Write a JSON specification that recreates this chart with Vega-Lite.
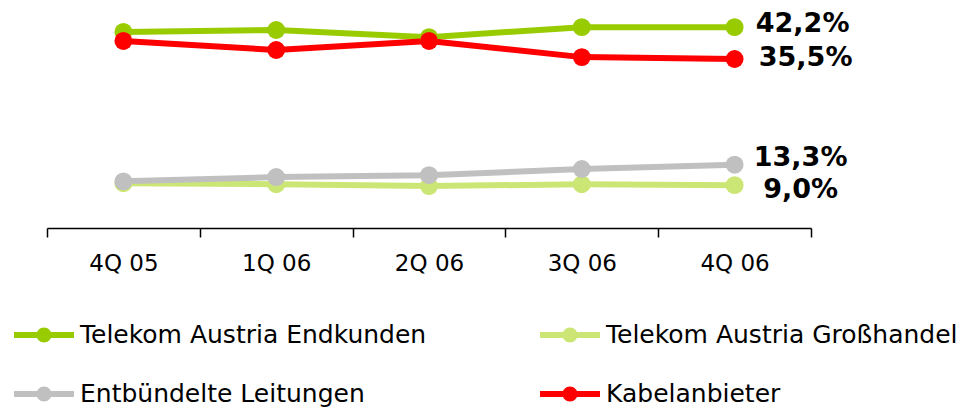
{
  "$schema": "https://vega.github.io/schema/vega-lite/v6.json",
  "autosize": "none",
  "width": 764,
  "height": 228,
  "padding": {"left": 47, "top": 0, "right": 165, "bottom": 181},
  "background": "white",
  "config": {"view": {"stroke": null}, "font": "DejaVu Sans"},
  "data": {
    "values": [
      {"q": "4Q 05", "s": "Telekom Austria Endkunden", "v": 41.2},
      {"q": "1Q 06", "s": "Telekom Austria Endkunden", "v": 41.6},
      {"q": "2Q 06", "s": "Telekom Austria Endkunden", "v": 40.1},
      {"q": "3Q 06", "s": "Telekom Austria Endkunden", "v": 42.2},
      {"q": "4Q 06", "s": "Telekom Austria Endkunden", "v": 42.2},
      {"q": "4Q 05", "s": "Telekom Austria Großhandel", "v": 9.4},
      {"q": "1Q 06", "s": "Telekom Austria Großhandel", "v": 9.2},
      {"q": "2Q 06", "s": "Telekom Austria Großhandel", "v": 8.8},
      {"q": "3Q 06", "s": "Telekom Austria Großhandel", "v": 9.2},
      {"q": "4Q 06", "s": "Telekom Austria Großhandel", "v": 9.0},
      {"q": "4Q 05", "s": "Entbündelte Leitungen", "v": 9.8},
      {"q": "1Q 06", "s": "Entbündelte Leitungen", "v": 10.7},
      {"q": "2Q 06", "s": "Entbündelte Leitungen", "v": 11.1},
      {"q": "3Q 06", "s": "Entbündelte Leitungen", "v": 12.4},
      {"q": "4Q 06", "s": "Entbündelte Leitungen", "v": 13.3},
      {"q": "4Q 05", "s": "Kabelanbieter", "v": 39.3},
      {"q": "1Q 06", "s": "Kabelanbieter", "v": 37.4},
      {"q": "2Q 06", "s": "Kabelanbieter", "v": 39.3},
      {"q": "3Q 06", "s": "Kabelanbieter", "v": 35.9},
      {"q": "4Q 06", "s": "Kabelanbieter", "v": 35.5}
    ]
  },
  "encoding": {
    "x": {
      "field": "q", "type": "ordinal", "sort": null,
      "scale": {"type": "band", "paddingInner": 0, "paddingOuter": 0},
      "axis": {
        "title": null, "labelAngle": 0, "tickBand": "extent",
        "domainColor": "black", "domainWidth": 1.5, "tickColor": "black", "tickWidth": 1.5, "tickSize": 9,
        "labelFont": "DejaVu Sans", "labelFontSize": 23, "labelColor": "black", "labelPadding": 15
      }
    },
    "y": {"field": "v", "type": "quantitative", "scale": {"domain": [0, 47.9], "nice": false, "zero": false}, "axis": null}
  },
  "layer": [
    {
      "mark": {"type": "line", "strokeWidth": 6},
      "encoding": {
        "color": {
          "field": "s", "type": "nominal",
          "scale": {
            "domain": ["Telekom Austria Endkunden", "Telekom Austria Großhandel", "Entbündelte Leitungen", "Kabelanbieter"],
            "range": ["#99CC00", "#CCE675", "#C0C0C0", "#FF0000"]
          },
          "legend": {
            "title": null, "orient": "none", "legendX": -33, "legendY": 305,
            "direction": "horizontal", "columns": 2, "columnPadding": 113, "rowPadding": 16, "padding": 0,
            "symbolType": "M-1,-0.1H1V0.1H-1Z M-0.25,0A0.25,0.25 0 1,1 0.25,0A0.25,0.25 0 1,1 -0.25,0Z",
            "symbolSize": 3600, "symbolStrokeWidth": 0, "symbolOpacity": 1,
            "labelFont": "DejaVu Sans", "labelFontSize": 25, "labelColor": "black", "labelLimit": 0, "labelOffset": 6,
            "encode": {"symbols": {"update": {"fill": {"scale": "color", "field": "value"}, "stroke": {"value": "transparent"}, "strokeWidth": {"value": 0}}}}
          }
        }
      }
    },
    {
      "mark": {"type": "point", "filled": true, "size": 320, "opacity": 1},
      "encoding": {"color": {"field": "s", "type": "nominal", "legend": null}}
    },
    {
      "transform": [
        {"filter": "datum.q === '4Q 06'"},
        {"calculate": "replace(format(datum.v, '.1f'), '.', ',') + '%'", "as": "lab"}
      ],
      "layer": [
        {"transform": [{"filter": "datum.s === 'Telekom Austria Endkunden'"}], "mark": {"type": "text", "align": "center", "dx": 68, "dy": -3, "fontSize": 27, "fontWeight": "bold", "font": "DejaVu Sans", "color": "black"}, "encoding": {"text": {"field": "lab"}}},
        {"transform": [{"filter": "datum.s === 'Kabelanbieter'"}], "mark": {"type": "text", "align": "center", "dx": 71, "dy": -1, "fontSize": 27, "fontWeight": "bold", "font": "DejaVu Sans", "color": "black"}, "encoding": {"text": {"field": "lab"}}},
        {"transform": [{"filter": "datum.s === 'Entbündelte Leitungen'"}], "mark": {"type": "text", "align": "center", "dx": 66, "dy": -7, "fontSize": 27, "fontWeight": "bold", "font": "DejaVu Sans", "color": "black"}, "encoding": {"text": {"field": "lab"}}},
        {"transform": [{"filter": "datum.s === 'Telekom Austria Großhandel'"}], "mark": {"type": "text", "align": "center", "dx": 66, "dy": 5, "fontSize": 27, "fontWeight": "bold", "font": "DejaVu Sans", "color": "black"}, "encoding": {"text": {"field": "lab"}}}
      ]
    }
  ]
}
